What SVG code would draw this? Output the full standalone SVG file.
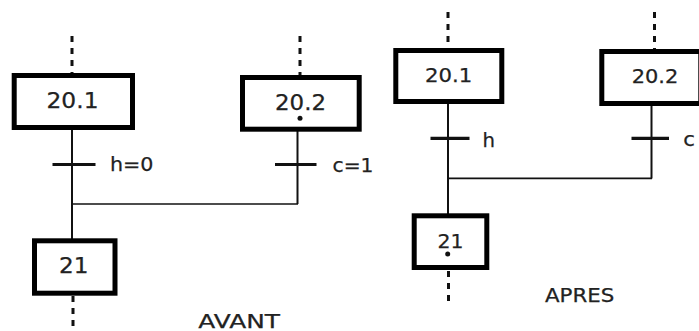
<svg xmlns="http://www.w3.org/2000/svg" width="699" height="331" viewBox="0 0 699 331">
<style>
.step{fill:#fff;stroke:#000;stroke-width:5}
.ln{stroke:#111;stroke-width:2;fill:none}
.jn{stroke:#111;stroke-width:1.7;fill:none}
.bar{stroke:#111;stroke-width:3.2}
.dash{stroke:#111;stroke-width:3;stroke-dasharray:6 6;fill:none}
text{font-family:"DejaVu Sans",sans-serif;fill:#222;stroke:#222;stroke-width:0.25}
.big{font-size:20.5px}
.mid{font-size:19.3px}
.lab{font-size:19.5px}
.cap{font-size:18.6px}
.dot{fill:#111}
</style>
<rect width="699" height="331" fill="#fff"/>
<g id="connectors">
<line class="dash" x1="72" y1="36" x2="72" y2="73"/>
<line class="dash" x1="300" y1="36" x2="300" y2="75"/>
<line class="dash" x1="73" y1="296" x2="73" y2="331"/>
<line class="ln" x1="72" y1="128" x2="72" y2="240"/>
<line class="ln" x1="297.5" y1="129" x2="297.5" y2="204"/>
<line class="jn" x1="72" y1="204" x2="298" y2="204"/>
<line class="bar" x1="52.5" y1="164.5" x2="95.5" y2="164.5"/>
<line class="bar" x1="275" y1="164.5" x2="316.5" y2="164.5"/>
<line class="dash" x1="448" y1="12" x2="448" y2="48"/>
<line class="dash" x1="654.5" y1="12" x2="654.5" y2="49"/>
<line class="dash" x1="448.5" y1="271" x2="448.5" y2="306"/>
<line class="ln" x1="448" y1="102" x2="448" y2="215"/>
<line class="ln" x1="651.5" y1="104" x2="651.5" y2="178.5"/>
<line class="jn" x1="448" y1="178.3" x2="652" y2="178.3"/>
<line class="bar" x1="430.5" y1="138.3" x2="469.5" y2="138.3"/>
<line class="bar" x1="631.5" y1="138.3" x2="669" y2="138.3"/>
</g>
<g id="avant-20.1">
<rect class="step" x="14.2" y="75.5" width="118.3" height="52"/>
<text class="big" x="46.5" y="108.3" textLength="52" lengthAdjust="spacingAndGlyphs">20.1</text>
</g>
<g id="avant-20.2">
<rect class="step" x="242.5" y="77.5" width="116.7" height="51.7"/>
<text class="big" x="275" y="110" textLength="51" lengthAdjust="spacingAndGlyphs">20.2</text>
<circle class="dot" cx="300" cy="118.3" r="2.5"/>
</g>
<g id="avant-21">
<rect class="step" x="34.5" y="240.8" width="80.5" height="52.4"/>
<text class="big" x="59" y="273.3" textLength="29.5" lengthAdjust="spacingAndGlyphs">21</text>
</g>
<g id="avant-labels">
<text class="lab" x="110" y="171" textLength="43.5" lengthAdjust="spacingAndGlyphs">h=0</text>
<text class="lab" x="332.5" y="171.7" textLength="41" lengthAdjust="spacingAndGlyphs">c=1</text>
<text class="cap" x="198.3" y="327.7" textLength="81.7" lengthAdjust="spacingAndGlyphs">AVANT</text>
</g>
<g id="apres-20.1">
<rect class="step" x="395.8" y="50.5" width="106" height="51"/>
<text class="mid" x="425" y="82.3" textLength="47.3" lengthAdjust="spacingAndGlyphs">20.1</text>
</g>
<g id="apres-20.2">
<rect class="step" x="601.8" y="51.5" width="99" height="52"/>
<text class="mid" x="631.7" y="83" textLength="46.6" lengthAdjust="spacingAndGlyphs">20.2</text>
</g>
<g id="apres-21">
<rect class="step" x="414.2" y="215.8" width="72.6" height="51.7"/>
<text class="mid" x="437.5" y="247.7" textLength="26" lengthAdjust="spacingAndGlyphs">21</text>
<circle class="dot" cx="447.7" cy="254" r="2.5"/>
</g>
<g id="apres-labels">
<text class="lab" x="482.5" y="146.5" textLength="12.5" lengthAdjust="spacingAndGlyphs">h</text>
<text class="lab" x="683.3" y="145.7" textLength="11.7" lengthAdjust="spacingAndGlyphs">c</text>
<text class="cap" x="545" y="302" textLength="69.3" lengthAdjust="spacingAndGlyphs">APRES</text>
</g>
</svg>
